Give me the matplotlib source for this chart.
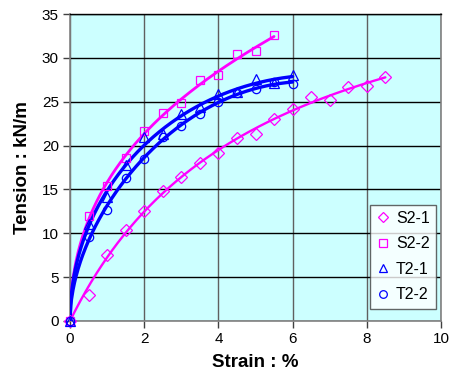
import numpy as np
import matplotlib
matplotlib.use("Agg")
import matplotlib.pyplot as plt
from matplotlib.lines import Line2D

# ---- data ----
strain_s21 = [0, 0.5, 1, 1.5, 2, 2.5, 3, 3.5, 4, 4.5, 5, 5.5, 6, 6.5, 7, 7.5, 8, 8.5]
tension_s21 = [0, 2.95, 7.5, 10.35, 12.55, 14.8, 16.4, 18.05, 19.1, 20.9, 21.35, 23.05,
               24.2, 25.5, 25.2, 26.65, 26.8, 27.8]

strain_s22 = [0, 0.5, 1, 1.5, 2, 2.5, 3, 3.5, 4, 4.5, 5, 5.5]
tension_s22 = [0, 12.0, 15.35, 18.6, 21.65, 23.7, 24.8, 27.45, 28.1, 30.4, 30.75, 32.55]

strain_t21 = [0, 0.5, 1, 1.5, 2, 2.5, 3, 3.5, 4, 4.5, 5, 5.5, 6]
tension_t21 = [0, 11.1, 14.1, 17.8, 20.95, 21.3, 23.65, 24.35, 25.85, 26.1, 27.6, 27.1, 28.05]

strain_t22 = [0, 0.5, 1, 1.5, 2, 2.5, 3, 3.5, 4, 4.5, 5, 5.5, 6]
tension_t22 = [0, 9.6, 12.7, 16.3, 18.45, 20.95, 22.2, 23.6, 25.0, 26.0, 26.5, 27.2, 27.0]

labels = ["S2-1", "S2-2", "T2-1", "T2-2"]
xticks = [0, 2, 4, 6, 8, 10]
yticks = [0, 5, 10, 15, 20, 25, 30, 35]

pink = "#FF00FF"
blue = "#0000FF"

fig = plt.figure(figsize=(4.51, 3.80), dpi=100)
ax = fig.add_axes([70 / 451, 1 - 321 / 380, 371 / 451, 307 / 380])
ax.set_facecolor("#CCFFFF")


def fit_sqrt(x, y):
    x = np.asarray(x, float)
    y = np.asarray(y, float)
    basis = lambda t: np.column_stack([np.sqrt(t), t, t ** 2])
    coef, *_ = np.linalg.lstsq(basis(x), y, rcond=None)
    xs = np.linspace(0, x.max(), 300)
    return xs, basis(xs) @ coef


def fit_hyperbolic(x, y):
    # least-squares fit of y = x / (a + b x)
    x = np.asarray(x, float)
    y = np.asarray(y, float)
    A = np.linspace(0.01, 0.4, 400)[:, None, None]
    B = np.linspace(0.0, 0.06, 400)[None, :, None]
    pred = x[None, None, :] / (A + B * x[None, None, :])
    sse = ((pred - y[None, None, :]) ** 2).sum(axis=2)
    i, j = np.unravel_index(np.argmin(sse), sse.shape)
    a, b = A[i, 0, 0], B[0, j, 0]
    xs = np.linspace(0, x.max(), 300)
    return xs, xs / (a + b * xs)


series = [
    (strain_s21, tension_s21, pink, "D", 6.0, 1.7, fit_hyperbolic),
    (strain_s22, tension_s22, pink, "s", 6.0, 2.0, fit_sqrt),
    (strain_t21, tension_t21, blue, "^", 6.5, 2.4, fit_sqrt),
    (strain_t22, tension_t22, blue, "o", 6.0, 2.4, fit_sqrt),
]

handles = []
for (x, y, c, m, ms, lw, fit), lab in zip(series, labels):
    xs, ys = fit(x, y)
    ax.plot(xs, ys, color=c, lw=lw, zorder=3, solid_capstyle="round")
    ax.plot(x, y, linestyle="none", marker=m, ms=ms, mfc="none", mec=c,
            mew=0.9, zorder=4, clip_on=False)
    handles.append(Line2D([], [], linestyle="none", marker=m, ms=ms - 0.5,
                          mfc="none", mec=c, mew=0.9))

ax.set_xlim(0, 10)
ax.set_ylim(0, 35)
ax.set_xticks(xticks)
ax.set_yticks(yticks)
ax.tick_params(direction="out", length=5, width=1, color="#404040",
               labelsize=11, pad=3)
for t in ax.get_xticklabels() + ax.get_yticklabels():
    t.set_fontfamily("Liberation Sans")

ax.yaxis.grid(True, color="black", lw=1.0, zorder=1)
ax.xaxis.grid(True, color="#606060", lw=1.0, zorder=1)
ax.set_axisbelow(True)
for side in ["left", "bottom", "right"]:
    ax.spines[side].set_color("#808080")
    ax.spines[side].set_linewidth(1.2)
ax.spines["top"].set_color("black")
ax.spines["top"].set_linewidth(1.0)

ax.set_xlabel("Strain : %", fontsize=13.5, fontweight="bold",
              fontfamily="Liberation Sans", labelpad=6)
ax.set_ylabel("Tension : kN/m", fontsize=13.5, fontweight="bold",
              fontfamily="Liberation Sans", labelpad=8)

leg = ax.legend(handles, labels, loc="lower right", bbox_to_anchor=(0.995, 0.03),
                prop={"family": "Liberation Sans", "size": 11.5},
                frameon=True, fancybox=False, edgecolor="#404040",
                handlelength=0.8, handletextpad=0.4, borderpad=0.4,
                labelspacing=0.65, borderaxespad=0.2)
leg.get_frame().set_linewidth(1.0)
leg.get_frame().set_facecolor("white")
leg.set_zorder(10)

fig.savefig("out.png", dpi=100)
